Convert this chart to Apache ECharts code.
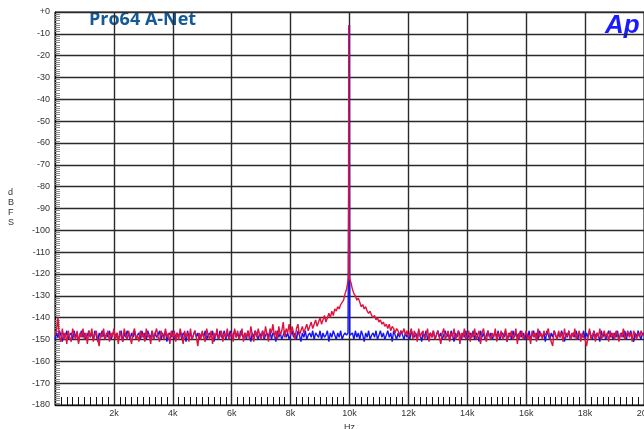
<!DOCTYPE html>
<html>
<head>
<meta charset="utf-8">
<script src="https://cdn.jsdelivr.net/npm/echarts@6/dist/echarts.min.js"></script>
<style>
  html, body { margin: 0; padding: 0; background: #fff; }
  #chart { width: 644px; height: 429px; }
</style>
</head>
<body>
<div id="chart"></div>
<script>
// FFT bins every 50 Hz, 0 .. 20 kHz (dBFS), one row per kHz
var binHz = 50;

var redDb = [
  -148,-146,-140,-149,-151,-145,-150,-147,-152,-146,-149,-151,-145,-148,-150,-146,-152,-147,-149,-145,
  -150,-147,-152,-146,-149,-145,-151,-148,-146,-150,-153,-147,-149,-145,-150,-148,-146,-151,-147,-149,
  -145,-150,-147,-152,-146,-149,-151,-145,-148,-150,-146,-149,-152,-147,-145,-150,-148,-151,-146,-149,
  -147,-151,-145,-149,-148,-152,-146,-150,-147,-145,-149,-151,-146,-148,-150,-145,-149,-147,-152,-146,
  -149,-146,-151,-147,-150,-145,-148,-152,-146,-149,-147,-151,-145,-150,-148,-146,-149,-153,-147,-150,
  -146,-149,-151,-145,-148,-150,-146,-152,-147,-149,-145,-150,-148,-146,-151,-147,-149,-145,-150,-148,
  -147,-151,-145,-149,-146,-150,-148,-145,-151,-147,-149,-146,-150,-144,-148,-151,-146,-149,-145,-148,
  -150,-146,-149,-144,-148,-151,-145,-147,-143,-149,-146,-150,-144,-148,-146,-142,-149,-145,-147,-143,
  -148,-144,-147,-150,-145,-143,-148,-146,-144,-147,-145,-143,-146,-144,-142,-145,-143,-141,-144,-142,
  -140,-143,-141,-139,-142,-140,-138,-140,-137,-139,-136,-137,-135,-136,-134,-133,-132,-129,-127,-123,
  -122,-124,-127,-129,-130,-132,-131,-133,-135,-134,-136,-135,-137,-138,-137,-139,-140,-139,-141,-140,
  -142,-141,-143,-142,-144,-143,-145,-143,-146,-144,-145,-147,-145,-146,-148,-146,-147,-145,-148,-146,
  -149,-147,-145,-150,-146,-148,-151,-145,-149,-147,-146,-150,-148,-145,-151,-147,-149,-146,-150,-148,
  -146,-149,-152,-147,-145,-150,-148,-146,-151,-147,-149,-145,-150,-148,-146,-152,-147,-149,-145,-150,
  -148,-146,-151,-147,-149,-145,-150,-148,-146,-152,-147,-145,-149,-151,-146,-148,-150,-147,-149,-145,
  -151,-147,-149,-146,-150,-148,-145,-151,-147,-149,-146,-150,-148,-145,-152,-147,-149,-146,-150,-148,
  -146,-150,-148,-152,-146,-149,-147,-151,-145,-149,-147,-150,-146,-148,-147,-145,-149,-151,-153,-146,
  -148,-150,-146,-149,-147,-151,-145,-149,-148,-146,-150,-147,-149,-145,-150,-148,-146,-151,-147,-149,
  -150,-153,-149,-145,-150,-148,-146,-151,-147,-149,-145,-150,-148,-146,-149,-147,-151,-146,-149,-147,
  -150,-146,-148,-151,-147,-149,-145,-150,-148,-146,-149,-147,-151,-146,-148,-150,-147,-149,-146,-148,
  -148
];

var blueDb = [
  -150,-147,-149,-146,-148,-151,-147,-149,-146,-150,-148,-147,-150,-146,-149,-147,-151,-148,-146,-149,
  -147,-150,-148,-146,-149,-147,-150,-146,-148,-151,-147,-149,-146,-148,-150,-147,-149,-146,-150,-148,
  -146,-149,-147,-150,-148,-146,-151,-147,-149,-146,-148,-150,-147,-149,-146,-150,-148,-147,-150,-146,
  -149,-147,-150,-146,-148,-149,-146,-150,-147,-149,-148,-146,-150,-147,-149,-146,-151,-148,-147,-149,
  -146,-150,-148,-147,-149,-146,-150,-147,-148,-151,-146,-149,-147,-150,-148,-146,-149,-147,-150,-148,
  -147,-149,-146,-150,-148,-147,-149,-146,-151,-148,-147,-150,-146,-149,-148,-146,-150,-147,-149,-146,
  -150,-148,-146,-149,-147,-150,-146,-148,-149,-147,-150,-146,-148,-151,-147,-149,-146,-148,-150,-147,
  -149,-146,-150,-148,-147,-149,-146,-150,-147,-148,-151,-146,-149,-147,-150,-148,-146,-149,-147,-150,
  -148,-146,-149,-147,-150,-146,-148,-151,-147,-149,-146,-150,-148,-147,-149,-146,-150,-147,-148,-149,
  -146,-150,-147,-149,-148,-146,-151,-147,-149,-146,-148,-150,-147,-149,-146,-150,-148,-147,-148,-147,
  -6,-148,-147,-150,-146,-149,-147,-150,-146,-148,-151,-147,-149,-146,-150,-148,-147,-149,-146,-150,
  -148,-146,-149,-147,-150,-148,-146,-149,-147,-151,-146,-148,-150,-147,-149,-146,-148,-150,-147,-149,
  -147,-150,-146,-148,-149,-147,-150,-146,-148,-151,-147,-149,-146,-150,-148,-147,-149,-146,-150,-148,
  -146,-149,-147,-150,-148,-146,-149,-147,-150,-146,-148,-151,-147,-149,-146,-148,-150,-147,-149,-146,
  -150,-148,-147,-149,-146,-150,-147,-148,-151,-146,-149,-147,-150,-148,-146,-149,-147,-150,-148,-147,
  -149,-146,-150,-148,-147,-149,-146,-151,-148,-147,-150,-146,-149,-147,-148,-150,-146,-149,-147,-150,
  -147,-149,-146,-150,-148,-146,-149,-147,-150,-146,-148,-149,-147,-151,-146,-148,-150,-147,-149,-146,
  -148,-150,-147,-149,-146,-148,-151,-147,-149,-146,-150,-148,-147,-149,-146,-150,-147,-148,-149,-146,
  -150,-147,-149,-146,-148,-150,-146,-149,-147,-148,-151,-146,-149,-147,-150,-148,-146,-149,-147,-150,
  -147,-149,-146,-150,-148,-147,-149,-146,-150,-147,-148,-146,-149,-151,-147,-149,-146,-148,-150,-147,
  -148
];

// the red tone peak sits just left of the 10 kHz bin
var redSpikeHz = [9965, 9975, 9985];
var redSpikeDb = [-121, -6, -121];
var blueSpikeHz = [9992, 10010];
var blueSpikeDb = [-147, -148];

function buildSeries(db, spikeHz, spikeDb) {
  var pts = [];
  for (var i = 0; i < db.length; i++) pts.push([i * binHz, db[i]]);
  for (var j = 0; j < spikeHz.length; j++) pts.push([spikeHz[j], spikeDb[j]]);
  pts.sort(function (a, b) { return a[0] - b[0]; });
  return pts;
}

var chart = echarts.init(document.getElementById("chart"));
chart.setOption({
  animation: false,
  backgroundColor: "#fff",
  grid: {
    left: 55,
    top: 12,
    right: 0,
    bottom: 24,
    outerBoundsMode: "none",
    containLabel: false,
    show: true,
    borderColor: "#111",
    borderWidth: 1
  },
  graphic: [
    {
      type: "text",
      left: 89,
      top: 11,
      style: {
        text: "Pro64 A-Net",
        fill: "#165a95",
        font: "bold 18px 'Open Sans'"
      }
    },
    {
      type: "text",
      left: 605,
      top: 13,
      style: {
        text: "Ap",
        fill: "#1a1aff",
        font: "italic bold 26px 'Liberation Sans'"
      }
    },
    {
      type: "text",
      left: 8,
      top: 188,
      style: {
        text: "d\nB\nF\nS",
        fill: "#333",
        font: "9px 'Liberation Sans'",
        lineHeight: 10,
        align: "center"
      }
    }
  ],
  xAxis: {
    type: "value",
    min: 0,
    max: 20000,
    interval: 2000,
    name: "Hz",
    nameLocation: "middle",
    nameGap: 16,
    nameTextStyle: { color: "#333", fontSize: 9, fontFamily: "Liberation Sans" },
    axisLine: { show: true, onZero: false, lineStyle: { color: "#111", width: 1 } },
    axisTick: { show: false, inside: true },
    minorTick: { show: true, splitNumber: 10, length: 8, lineStyle: { color: "#111", width: 1 } },
    splitLine: { show: true, lineStyle: { color: "#2a2a2a", width: 1.4 } },
    axisLabel: {
      color: "#333",
      fontSize: 9,
      fontFamily: "Liberation Sans",
      margin: 4,
      formatter: function (v) {
        return v === 0 ? "" : v / 1000 + "k";
      }
    }
  },
  yAxis: {
    type: "value",
    min: -180,
    max: 0,
    interval: 10,
    axisLine: { show: true, onZero: false, lineStyle: { color: "#111", width: 1 } },
    axisTick: { show: false, inside: true },
    minorTick: { show: true, splitNumber: 10, length: 5, lineStyle: { color: "#888", width: 1 } },
    splitLine: { show: true, lineStyle: { color: "#2a2a2a", width: 1.4 } },
    axisLabel: {
      color: "#333",
      fontSize: 9,
      fontFamily: "Liberation Sans",
      margin: 5,
      formatter: function (v) {
        return v === 0 ? "+0" : String(v);
      }
    }
  },
  series: [
    {
      name: "ch2",
      type: "line",
      data: buildSeries(blueDb, blueSpikeHz, blueSpikeDb),
      showSymbol: false,
      lineStyle: { color: "#1414f0", width: 1.4 },
      z: 3
    },
    {
      name: "ch1",
      type: "line",
      data: buildSeries(redDb, redSpikeHz, redSpikeDb),
      showSymbol: false,
      lineStyle: { color: "#e0123f", width: 1.4 },
      z: 4
    }
  ]
});
</script>
</body>
</html>
